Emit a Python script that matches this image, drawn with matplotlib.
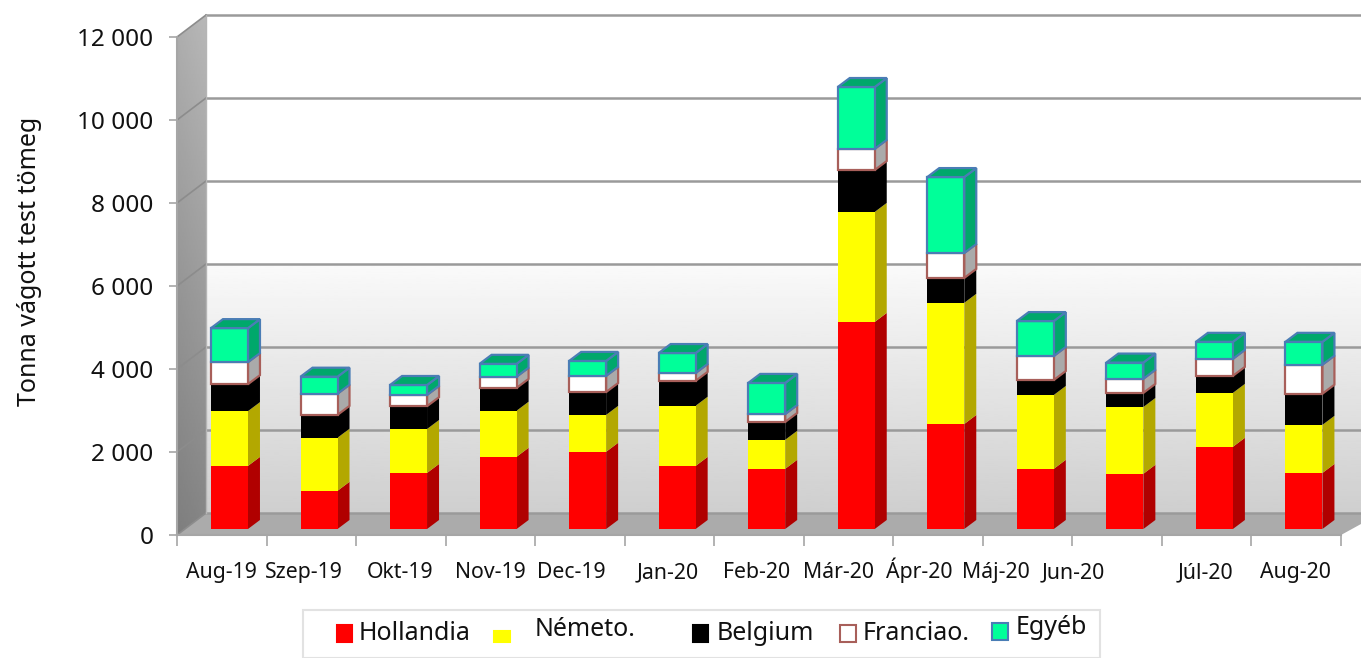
import matplotlib
matplotlib.use("Agg")
import matplotlib.pyplot as plt
import matplotlib.patches as patches
import numpy as np

months = ["Aug-19", "Szep-19", "Okt-19", "Nov-19", "Dec-19", "Jan-20", "Feb-20",
          "Már-20", "Ápr-20", "Máj-20", "Jun-20", "Júl-20", "Aug-20"]
hollandia = [1520, 920, 1350, 1740, 1860, 1520, 1450, 4990, 2530, 1450, 1330, 1980, 1350]
nemeto = [1320, 1280, 1060, 1110, 890, 1450, 700, 2650, 2920, 1780, 1610, 1300, 1160]
belgium = [650, 550, 550, 550, 550, 600, 430, 1010, 600, 360, 340, 410, 750]
franciao = [530, 510, 270, 270, 390, 190, 190, 510, 600, 580, 340, 410, 700]
egyeb = [820, 410, 240, 310, 360, 480, 750, 1490, 1830, 840, 390, 410, 550]
yticks = [0, 2000, 4000, 6000, 8000, 10000, 12000]
ytick_labels = ["0", "2 000", "4 000", "6 000", "8 000", "10 000", "12 000"]

W, H = 1361, 658
FONT = "Noto Sans"
TEXT = "#111111"

# pixel frame of the front plane
LEFT, RIGHT, TOP, BOTTOM = 177, 1341, 37, 535
PX_X = (RIGHT - LEFT) / 13
PX_Y = (BOTTOM - TOP) / 12000

# name, values, front, side, top, edge
series = [
    ("Hollandia", hollandia, "#ff0000", "#b00000", "#c00000", None),
    ("Németo.", nemeto, "#ffff00", "#b3a800", "#b3a800", None),
    ("Belgium", belgium, "#000000", "#000000", "#000000", None),
    ("Franciao.", franciao, "#ffffff", "#aaaaaa", "#aaaaaa", "#a85f5a"),
    ("Egyéb", egyeb, "#00ff99", "#00a86b", "#00b070", "#4a7db5"),
]


def main():
    fig = plt.figure(figsize=(W / 100, H / 100), dpi=100)
    ax = fig.add_axes([LEFT / W, 1 - BOTTOM / H, (RIGHT - LEFT) / W, (BOTTOM - TOP) / H])
    ax.set_xlim(-0.5, 12.5)
    ax.set_ylim(0, 12000)
    ax.patch.set_visible(False)

    # wall offsets in data units
    wx = 29 / PX_X
    wy = 22 / PX_Y
    x0, x1 = -0.5, 12.5 + 40 / PX_X

    # back wall gradient
    grad = np.ones((256, 1))
    t = np.linspace(0, 1, 256)
    grad[:, 0] = np.where(t < 0.5, 1.0, 0.98 - (t - 0.5) / 0.5 * 0.17)
    ax.imshow(grad, extent=[x0 + wx, x1, wy, 12000 + wy], aspect="auto", cmap="gray",
              vmin=0, vmax=1, clip_on=False, zorder=0)

    # left wall gradient, cut to its parallelogram
    side = np.linspace(0.72, 0.52, 128).reshape(-1, 1) * np.linspace(0.95, 1.0, 32)
    im = ax.imshow(side, extent=[x0, x0 + wx, 0, 12000 + wy], aspect="auto", cmap="gray",
                   vmin=0, vmax=1, zorder=0)
    clip = patches.Polygon([(x0, 0), (x0 + wx, wy), (x0 + wx, 12000 + wy), (x0, 12000)],
                           transform=ax.transData)
    im.set_clip_box(fig.bbox)
    im.set_clip_path(clip)

    # floor
    ax.fill([x0, x0 + wx, x1, 12.5], [0, wy, wy, 0], color="#ababab", lw=0,
            clip_on=False, zorder=1)

    # gridlines on back and left wall
    for v in yticks:
        ax.plot([x0 + wx, x1], [v + wy, v + wy], color="#9a9a9a", lw=1.8, clip_on=False, zorder=1)
        ax.plot([x0, x0 + wx], [v, v + wy], color="#8c8c8c", lw=1.2, clip_on=False, zorder=1)
    ax.plot([x0 + wx, x0 + wx], [wy, 12000 + wy], color="#b5b5b5", lw=1, clip_on=False, zorder=1)

    ax.set_xlim(-0.5, 12.5)
    ax.set_ylim(0, 12000)

    # bars
    pos = np.arange(len(months)) + 7.7 / PX_X
    width = 37 / PX_X
    base = 6 / PX_Y
    dx = 12 / PX_X
    dy = 9 / PX_Y
    bottoms = np.full(len(months), base)
    z = 3
    for name, values, front, side_c, top_c, edge in series:
        vals = np.array(values, dtype=float)
        lw = 1.6 if edge else 0
        for xp, b, v in zip(pos, bottoms, vals):
            xr = xp + width / 2
            ax.fill([xr, xr + dx, xr + dx, xr], [b, b + dy, b + v + dy, b + v],
                    facecolor=side_c, edgecolor=edge or side_c, lw=lw, clip_on=False, zorder=z)
        ax.bar(pos, vals, width=width, bottom=bottoms, color=front,
               edgecolor=edge or front, linewidth=lw, zorder=z + 1, clip_on=False)
        z += 2
        bottoms = bottoms + vals
    # lid on top of every stack
    for xp, t_val in zip(pos, bottoms):
        xl, xr = xp - width / 2, xp + width / 2
        ax.fill([xl, xr, xr + dx, xl + dx], [t_val, t_val, t_val + dy, t_val + dy],
                facecolor=series[-1][3], edgecolor=series[-1][5], lw=1.6, clip_on=False, zorder=z)

    # axes
    for s in ["top", "right"]:
        ax.spines[s].set_visible(False)
    for s in ["left", "bottom"]:
        ax.spines[s].set_color("#a6a6a6")
        ax.spines[s].set_linewidth(1.5)
    ax.set_yticks(yticks, ytick_labels, fontsize=17.5, family=FONT, color=TEXT)
    ax.tick_params(axis="y", length=6, width=1.2, color="#a6a6a6", pad=11)
    ax.set_xticks(np.arange(-0.5, 13, 1))
    ax.set_xticklabels([])
    ax.tick_params(axis="x", length=8, width=1.2, color="#a6a6a6")

    # month labels sit off-centre in the source
    label_px = [221, 304, 400, 490, 571, 668, 757, 839, 919, 996, 1073, 1205, 1295]
    for name, px in zip(months, label_px):
        fig.text(px / W, 1 - 578 / H, name, ha="center", va="baseline",
                 fontsize=15.3, family=FONT, color=TEXT)

    fig.text(30 / W, 1 - 261 / H, "Tonna vágott test tömeg", rotation=90, ha="center",
             va="center", fontsize=18, family=FONT, color=TEXT)

    # hand-placed legend
    fig.add_artist(patches.Rectangle((303 / W, 0), 797 / W, 48 / H, transform=fig.transFigure,
                                     facecolor="white", edgecolor="#e2e2e2", lw=1.5))
    legend_items = [
        (337, 625, 15, 17, 359, 633),
        (494, 631, 16, 11, 535, 629),
        (693, 625, 15, 17, 717, 633),
        (840, 625, 16, 17, 863, 633),
        (992, 623, 16, 17, 1016, 628),
    ]
    for (name, _, front, _, _, edge), (sx, sy, sw, sh, tx, ty) in zip(series, legend_items):
        fig.add_artist(patches.Rectangle((sx / W, 1 - (sy + sh) / H), sw / W, sh / H,
                                         transform=fig.transFigure, facecolor=front,
                                         edgecolor=edge or front, lw=1.5))
        fig.text(tx / W, 1 - ty / H, name, ha="left", va="center", fontsize=18,
                 family=FONT, color=TEXT)

    fig.savefig("out.png", dpi=100)


if __name__ == "__main__":
    main()
